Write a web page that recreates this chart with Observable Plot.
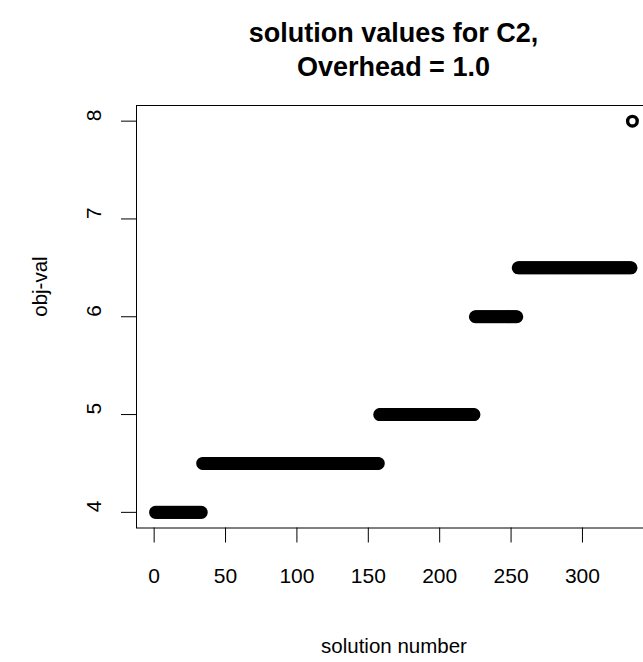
<!DOCTYPE html>
<html>
<head>
<meta charset="utf-8">
<script src="https://cdn.jsdelivr.net/npm/d3@7"></script>
<script src="https://cdn.jsdelivr.net/npm/@observablehq/plot@0.6"></script>
<style>
  html, body { margin: 0; padding: 0; background: #fff; overflow: hidden; width: 643px; height: 662px; }
  #title { width: 660px; box-sizing: border-box; padding: 16px 9px 0 136px; height: 84px; text-align: center;
           font-family: "Liberation Sans", Arial, sans-serif; font-weight: bold; font-size: 27px; line-height: 34px; color: #000; white-space: nowrap; }
  #chart { width: 660px; }
  #chart svg { max-width: none !important; width: 660px !important; height: 578px !important; display: block; }
</style>
</head>
<body>
<div id="title">solution values for C2,<br>Overhead = 1.0</div>
<div id="chart"></div>
<script>
// Runs of constant objective value (solution index ranges, inclusive)
const levels    = [4, 4.5, 5, 6, 6.5, 8];
const runStart  = [1, 34, 158, 225, 255, 335];
const runEnd    = [33, 157, 224, 254, 334, 335];
const xTicks = [0, 50, 100, 150, 200, 250, 300];
const yTicks = [4, 5, 6, 7, 8];

const points = [];
levels.forEach((v, i) => {
  for (let s = runStart[i]; s <= runEnd[i]; s++) points.push({x: s, y: v});
});

const xMin = d3.min(points, d => d.x), xMax = d3.max(points, d => d.x);
const yMin = d3.min(points, d => d.y), yMax = d3.max(points, d => d.y);
const xPad = 0.04 * (xMax - xMin), yPad = 0.04 * (yMax - yMin);

const font = "Liberation Sans, Arial, sans-serif";
const chart = Plot.plot({
  width: 660,
  height: 578,
  marginLeft: 136,
  marginRight: 9,
  marginTop: 21,
  marginBottom: 134.5,
  style: {fontFamily: font, fontSize: "21px", color: "#000", background: "#fff"},
  x: {domain: [xMin - xPad, xMax + xPad]},
  y: {domain: [yMin - yPad, yMax + yPad]},
  marks: [
    Plot.frame({stroke: "#000", strokeWidth: 1}),
    Plot.axisX({ticks: xTicks, tickSize: 15, tickFormat: () => "", label: null, stroke: "#000"}),
    Plot.axisY({ticks: yTicks, tickSize: 15, tickFormat: () => "", label: null, stroke: "#000"}),
    Plot.text(xTicks, {x: d => d, frameAnchor: "bottom", dy: 55, text: d => String(d), fontSize: 21, fill: "#000"}),
    Plot.text(yTicks, {y: d => d, frameAnchor: "left", dx: -42, rotate: -90, text: d => String(d), fontSize: 21, fill: "#000"}),
    Plot.text(["solution number"], {frameAnchor: "bottom", dy: 125, text: d => d, fontSize: 20.5, fill: "#000"}),
    Plot.text(["obj-val"], {frameAnchor: "left", dx: -96, rotate: -90, text: d => d, fontSize: 20.5, fill: "#000"}),
    Plot.dot(points, {x: "x", y: "y", r: 4.8, stroke: "#000", strokeWidth: 3.4, fill: "none"})
  ]
});
document.getElementById("chart").appendChild(chart);
</script>
</body>
</html>
